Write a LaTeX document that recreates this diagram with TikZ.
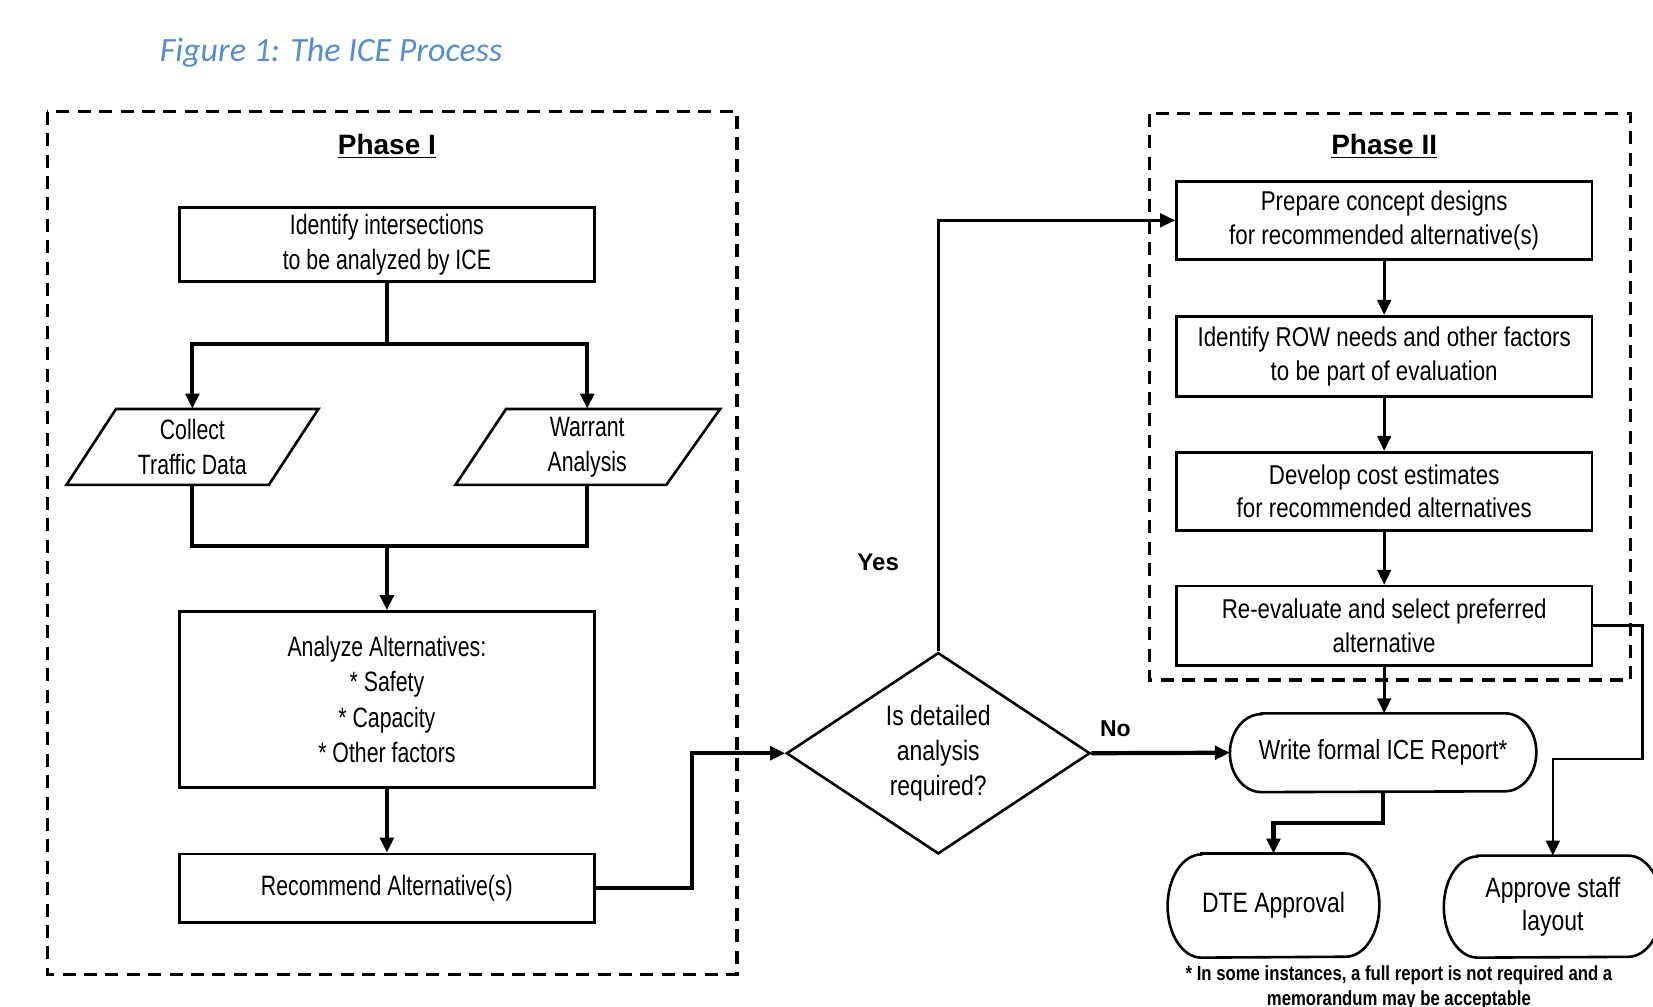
\documentclass[tikz,border=0pt]{standalone}
\usepackage{fontspec}
\setmainfont{Liberation Sans}
\newfontfamily\nfont[FakeStretch=0.76]{Liberation Sans}
\newfontfamily\wfont[FakeStretch=0.82]{Liberation Sans}
\newfontfamily\ttlfont{Carlito}
\usetikzlibrary{arrows.meta,shapes.geometric}
\definecolor{ttlblue}{RGB}{84,141,212}
\newcommand\pxu{0.5271pt}
\begin{document}
\begin{tikzpicture}[x=0.5271pt,y=-0.5271pt,
  boxline/.style={line width=1.3pt, line join=miter},
  pbox/.style={draw, boxline, minimum width=394*\pxu, inner sep=0pt, align=center,
    font=\nfont\fontsize{14pt}{17.4pt}\selectfont},
  qbox/.style={pbox, font=\wfont\fontsize{13.6pt}{16.8pt}\selectfont},
  ghost/.style={inner sep=0pt, align=center, font=\nfont\fontsize{14pt}{17.4pt}\selectfont},
  phasebox/.style={line width=1.6pt, dash pattern=on 6.5pt off 4.2pt},
  phaselbl/.style={font=\bfseries\fontsize{14pt}{17pt}\selectfont},
  conA/.style={line width=2.1pt, line join=miter},
  conB/.style={line width=1.3pt, line join=miter},
  arr/.style={-{Triangle[length=7.5pt,width=6.8pt]}},
  yn/.style={font=\bfseries\fontsize{11.5pt}{14pt}\selectfont}
]
\useasboundingbox (0,0) rectangle (1568,955);
\clip (0,0) rectangle (1568,955);

% title
\node[font=\ttlfont\itshape\fontsize{17pt}{20pt}\selectfont, text=ttlblue] (title) at (314,50) {Figure 1: The ICE Process};

% Phase I
\draw[phasebox] (45,106) rectangle (699,924);
\node[phaselbl] (p1) at (367,139) {\underline{Phase I}};
\node[pbox, minimum height=70*\pxu] (ident) at (367,232) {Identify intersections\\to be analyzed by ICE};

\node[ghost, minimum width=145*\pxu, minimum height=72*\pxu] (collect) at (182.5,424) {Collect\\Traffic Data};
\draw[boxline] (110,388) -- (302,388) -- (255,460) -- (63,460) -- cycle;
\node[ghost, minimum width=150*\pxu, minimum height=72*\pxu] (warrant) at (557,424) {Warrant\\Analysis};
\draw[boxline] (480,388) -- (683,388) -- (632,460) -- (432,460) -- cycle;

\node[pbox, minimum height=167*\pxu, font=\nfont\fontsize{14pt}{17.6pt}\selectfont] (analyze) at (367,663.5) {Analyze Alternatives:\\* Safety\\* Capacity\\* Other factors};
\node[pbox, minimum height=65*\pxu] (recom) at (367,842.5) {Recommend Alternative(s)};

\coordinate (split) at (367,326);
\coordinate (join) at (367,518);
\draw[conA] (ident.south) -- (split);
\draw[conA, arr] (split) -| (collect.north);
\draw[conA, arr] (split) -| (warrant.north);
\draw[conA] (collect.south) -- (collect.south |- join) -- (warrant.south |- join) -- (warrant.south);
\draw[conA, arr] (join) -- (analyze.north);
\draw[conA, arr] (analyze.south) -- (recom.north);

% decision
\node[diamond, draw, boxline, minimum width=288*\pxu, minimum height=191*\pxu, inner sep=0pt, align=center,
  font=\wfont\fontsize{14pt}{17.3pt}\selectfont] (dia) at (890,714.5) {Is detailed\\analysis\\required?};
\draw[conA, arr] (recom.east) -- ++(91,0) |- (dia.west);

% Phase II
\draw[phasebox] (1090,108) rectangle (1547,645);
\node[phaselbl] (p2) at (1313,139) {\underline{Phase II}};
\node[qbox, minimum height=74*\pxu] (prep) at (1313,209) {Prepare concept designs\\for recommended alternative(s)};
\node[qbox, minimum height=76*\pxu] (row) at (1313,338) {Identify ROW needs and other factors\\to be part of evaluation};
\node[qbox, minimum height=74*\pxu] (cost) at (1313,466) {Develop cost estimates\\for recommended alternatives};
\node[qbox, minimum height=75*\pxu] (reev) at (1313,593.5) {Re-evaluate and select preferred\\alternative};

\draw[conB, arr] (prep.south) -- (row.north);
\draw[conB, arr] (row.south) -- (cost.north);
\draw[conB, arr] (cost.south) -- (reev.north);

% terminals
\node[ghost, minimum width=290*\pxu, minimum height=74*\pxu, font=\wfont\fontsize{13.8pt}{16.8pt}\selectfont] (write) at (1312,714) {Write formal ICE Report*};
\draw[boxline] ([xshift=30*\pxu]write.north west) -- ([xshift=-30*\pxu]write.north east)
  arc[start angle=90, end angle=-90, x radius=15.8pt, y radius=19.5pt]
  -- ([xshift=30*\pxu]write.south west)
  arc[start angle=270, end angle=90, x radius=15.8pt, y radius=19.5pt] -- cycle;

\node[ghost, minimum width=200*\pxu, minimum height=98*\pxu, font=\wfont\fontsize{14pt}{17pt}\selectfont] (dte) at (1208,859) {DTE Approval};
\draw[boxline] ([xshift=32*\pxu]dte.north west) -- ([xshift=-32*\pxu]dte.north east)
  arc[start angle=90, end angle=-90, x radius=16.9pt, y radius=25.8pt]
  -- ([xshift=32*\pxu]dte.south west)
  arc[start angle=270, end angle=90, x radius=16.9pt, y radius=25.8pt] -- cycle;

\node[ghost, minimum width=206*\pxu, minimum height=96*\pxu, font=\wfont\fontsize{14pt}{16.5pt}\selectfont] (appr) at (1473,860) {Approve staff\\layout};
\draw[boxline] ([xshift=32*\pxu]appr.north west) -- ([xshift=-32*\pxu]appr.north east)
  arc[start angle=90, end angle=-90, x radius=16.9pt, y radius=25.3pt]
  -- ([xshift=32*\pxu]appr.south west)
  arc[start angle=270, end angle=90, x radius=16.9pt, y radius=25.3pt] -- cycle;

\draw[conB, arr] (reev.south) -- (reev.south |- write.north);
\coordinate (rc) at (1558,720);
\draw[conB, arr] (reev.east) -| (rc) -| (appr.north);
\draw[conA, arr] (write.south) -- ++(0,29) -| (dte.north);

% decision outputs
\draw[conB, arr] (dia.north) |- (prep.west);
\draw[conA, arr] (dia.east) -- (write.west);
\node[yn, font=\bfseries\fontsize{12pt}{14pt}\selectfont] (yes) at (833,533) {Yes};
\node[yn] (no) at (1058,691) {No};

% footnote
\node[align=center, font=\wfont\bfseries\fontsize{10.2pt}{12.2pt}\selectfont] (foot) at (1327,937) {* In some instances, a full report is not required and a\\memorandum may be acceptable};
\end{tikzpicture}
\end{document}
